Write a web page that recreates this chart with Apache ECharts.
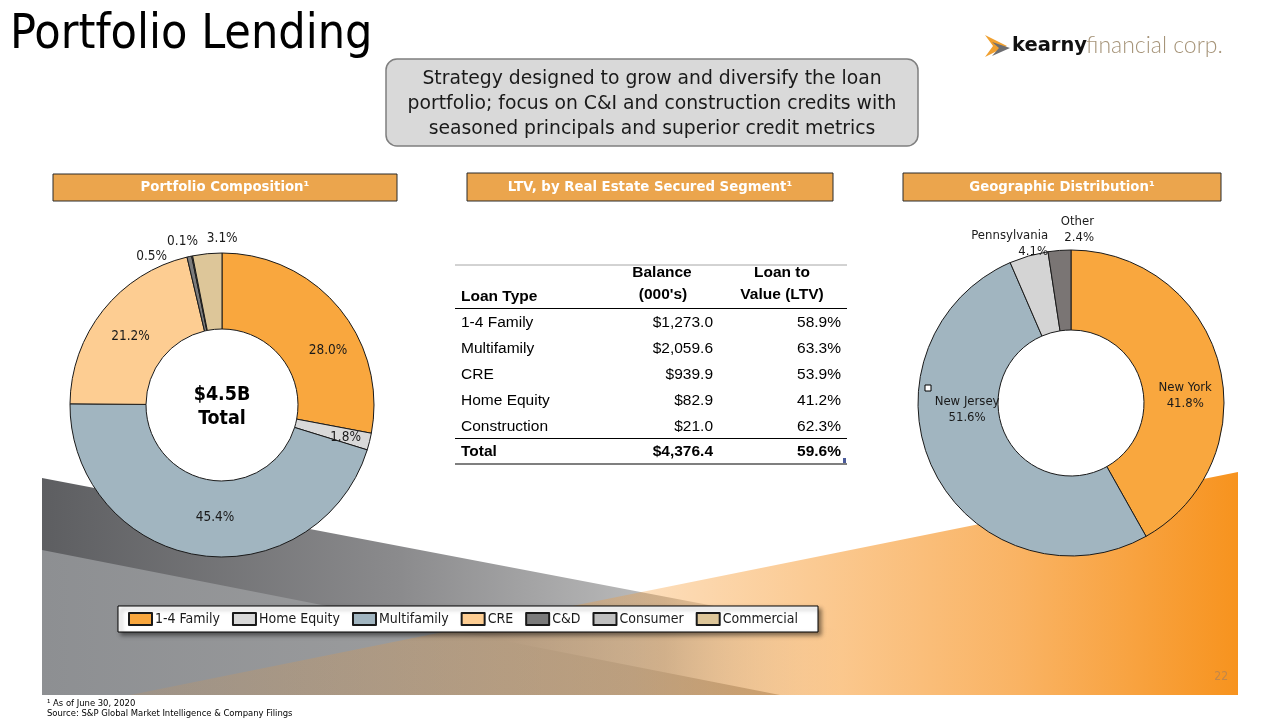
<!DOCTYPE html>
<html>
<head>
<meta charset="utf-8">
<script src="https://cdn.jsdelivr.net/npm/echarts@6/dist/echarts.min.js"></script>
<style>
html,body{margin:0;padding:0;background:#fff;}
#chart{width:1280px;height:720px;}
</style>
</head>
<body>
<div id="chart"></div>
<script>
// ---------- data ----------
const compCategories = ['1-4 Family', 'Home Equity', 'Multifamily', 'CRE', 'C&D', 'Consumer', 'Commercial'];
const compValues = [28.0, 1.8, 45.4, 21.2, 0.5, 0.1, 3.1];
const geoCategories = ['New York', 'New Jersey', 'Pennsylvania', 'Other'];
const geoValues = [41.8, 51.6, 4.1, 2.4];
const tableLoanTypes = ['1-4 Family', 'Multifamily', 'CRE', 'Home Equity', 'Construction'];
const tableBalances = [1273.0, 2059.6, 939.9, 82.9, 21.0];
const tableLTV = [58.9, 63.3, 53.9, 41.2, 62.3];
const tableTotalBalance = 4376.4;
const tableTotalLTV = 59.6;

// ---------- styles ----------
const COND = '"DejaVu Sans Condensed", "DejaVu Sans", sans-serif';
const DJV = '"DejaVu Sans", sans-serif';
const ARIAL = '"Liberation Sans", Arial, sans-serif';
const compColors = ['#F9A73E', '#D9D9D9', '#A1B5C0', '#FDCD92', '#7B7B7B', '#BFBFBF', '#DDC699'];
const geoColors = ['#F9A73E', '#A1B5C0', '#D4D4D4', '#7A7574'];
const barFill = '#EBA54D';

const fmtMoney = v => '$' + v.toLocaleString('en-US', {minimumFractionDigits: 1, maximumFractionDigits: 1});
const fmtPct = v => v.toFixed(1) + '%';

const compOutside = {4: true, 5: true, 6: true};
const geoOutside = {2: true, 3: true};
// label nudges [dx, dy] per series / data index
const labelNudge = [
  {0: [16, 20], 1: [10, 4], 2: [11, -3], 3: [0, 4], 4: [-16, 6], 5: [12, -9], 6: [36, -9]},
  {0: [2, 22], 1: [0, -45], 2: [26, -7], 3: [40, -15]}
];

const g = [];
// background shapes
g.push({type: 'polygon', z: -10, shape: {points: [[42, 478], [840, 630], [840, 695], [42, 695]]},
  style: {fill: {type: 'linear', x: 0, y: 0, x2: 1, y2: 0, colorStops: [
    {offset: 0, color: '#5d5e61'}, {offset: 0.45, color: '#8b8b8d'}, {offset: 0.78, color: '#bdbdbd'}, {offset: 1, color: 'rgba(225,225,225,0)'}]}}});
g.push({type: 'polygon', z: -9, shape: {points: [[42, 550], [780, 695], [42, 695]]},
  style: {fill: {type: 'linear', x: 0, y: 0, x2: 1, y2: 0, colorStops: [
    {offset: 0, color: '#8d8f92'}, {offset: 1, color: '#a8a8a8'}]}}});
g.push({type: 'polygon', z: -8, shape: {points: [[130, 695], [1238, 472], [1238, 695]]},
  style: {fill: {type: 'linear', x: 0, y: 0, x2: 1, y2: 0, colorStops: [
    {offset: 0, color: 'rgba(247,150,40,0.12)'}, {offset: 0.45, color: 'rgba(247,150,40,0.3)'},
    {offset: 0.8, color: 'rgba(247,150,40,0.72)'}, {offset: 1, color: 'rgba(247,147,30,1)'}]}}});

// title
g.push({type: 'text', style: {text: 'Portfolio Lending', x: 10, y: 36, font: '48px ' + COND, fill: '#000', textVerticalAlign: 'middle'}});
// logo
g.push({type: 'polygon', shape: {points: [[985, 35], [1007, 46], [985, 57], [993, 46]]}, style: {fill: '#F0A030'}});
g.push({type: 'polygon', shape: {points: [[992, 42], [1010, 48], [992, 56], [999, 48]]}, style: {fill: '#6d6e71'}});
g.push({type: 'text', style: {text: 'kearny', x: 1012, y: 46, font: 'bold 19.5px "DejaVu Sans", sans-serif', fill: '#111', textVerticalAlign: 'middle'}});
g.push({type: 'text', style: {text: 'financial corp.', x: 1086, y: 46, font: '300 23px Lato, sans-serif', fill: '#A69479', textVerticalAlign: 'middle'}});

// callout
g.push({type: 'rect', shape: {x: 386, y: 59, width: 532, height: 87, r: 11}, style: {fill: '#D9D9D9', stroke: '#7f7f7f', lineWidth: 1.5}});
['Strategy designed to grow and diversify the loan', 'portfolio; focus on C&I and construction credits with', 'seasoned principals and superior credit metrics']
  .forEach((t, i) => g.push({type: 'text', style: {text: t, x: 652, y: 79 + i * 25, font: '18.8px ' + DJV, fill: '#1a1a1a', textAlign: 'center', textVerticalAlign: 'middle'}}));

// header bars
[[53, 174, 344, 27, 'Portfolio Composition\u00B9'], [467, 173, 366, 28, 'LTV, by Real Estate Secured Segment\u00B9'], [903, 173, 318, 28, 'Geographic Distribution\u00B9']]
  .forEach(b => {
    g.push({type: 'rect', shape: {x: b[0], y: b[1], width: b[2], height: b[3]}, style: {fill: barFill, stroke: '#2b2b2b', lineWidth: 1}});
    g.push({type: 'text', style: {text: b[4], x: b[0] + b[2] / 2, y: b[1] + b[3] / 2 + 0.5, font: 'bold 13.3px ' + DJV, fill: '#fff', textAlign: 'center', textVerticalAlign: 'middle'}});
  });

// table
const tx0 = 455, tx1 = 847, colL = 461, colB = 713, colV = 841;
const tline = (y, c, w) => g.push({type: 'line', shape: {x1: tx0, y1: y, x2: tx1, y2: y}, style: {stroke: c, lineWidth: w}});
tline(265, '#a6a6a6', 1); tline(308.5, '#000', 1.2); tline(438.5, '#000', 1.2); tline(464, '#000', 1.2);
const ttext = (t, x, y, align, bold) => g.push({type: 'text', style: {text: t, x: x, y: y, font: (bold ? 'bold ' : '') + '15.5px ' + ARIAL, fill: '#000', textAlign: align, textVerticalAlign: 'middle'}});
ttext('Loan Type', colL, 297, 'left', true);
ttext('Balance', 662, 273, 'center', true); ttext("(000's)", 663, 295, 'center', true);
ttext('Loan to', 782, 273, 'center', true); ttext('Value (LTV)', 782, 295, 'center', true);
tableLoanTypes.forEach((t, i) => {
  const y = 323 + i * 26;
  ttext(t, colL, y, 'left', false);
  ttext(fmtMoney(tableBalances[i]), colB, y, 'right', false);
  ttext(fmtPct(tableLTV[i]), colV, y, 'right', false);
});
ttext('Total', colL, 452, 'left', true);
ttext(fmtMoney(tableTotalBalance), colB, 452, 'right', true);
ttext(fmtPct(tableTotalLTV), colV, 452, 'right', true);
g.push({type: 'rect', shape: {x: 843, y: 458, width: 3, height: 5}, style: {fill: '#4a5a9a'}});

// donut center text
g.push({type: 'text', z: 10, style: {text: '$4.5B', x: 222, y: 395, font: 'bold 19.5px ' + COND, fill: '#000', textAlign: 'center', textVerticalAlign: 'middle'}});
g.push({type: 'text', z: 10, style: {text: 'Total', x: 222, y: 419, font: 'bold 19.5px ' + COND, fill: '#000', textAlign: 'center', textVerticalAlign: 'middle'}});

// small square artifact on right donut
g.push({type: 'rect', z: 10, shape: {x: 925, y: 385, width: 6, height: 6}, style: {fill: '#fff', stroke: '#000', lineWidth: 1}});

// footer
g.push({type: 'text', style: {text: '\u00B9 As of June 30, 2020', x: 47, y: 704, font: '9.4px ' + COND, fill: '#000', textVerticalAlign: 'middle'}});
g.push({type: 'text', style: {text: 'Source: S&P Global Market Intelligence & Company Filings', x: 47, y: 714, font: '9.4px ' + COND, fill: '#000', textVerticalAlign: 'middle'}});
g.push({type: 'text', style: {text: '22', x: 1228, y: 677, font: '12px ' + COND, fill: '#C2874A', textAlign: 'right', textVerticalAlign: 'middle'}});

const chart = echarts.init(document.getElementById('chart'), null, {renderer: 'canvas'});
chart.setOption({
  animation: false,
  backgroundColor: '#fff',
  graphic: {elements: g},
  legend: {
    data: compCategories,
    left: 118, top: 606,
    orient: 'horizontal',
    icon: 'rect',
    itemWidth: 23, itemHeight: 12, itemGap: 12,
    padding: [6, 20, 6, 10],
    backgroundColor: '#fff', borderColor: '#000', borderWidth: 1,
    shadowColor: 'rgba(0,0,0,0.45)', shadowBlur: 4, shadowOffsetX: 3, shadowOffsetY: 3,
    textStyle: {fontFamily: COND, fontSize: 14, color: '#1a1a1a', padding: [0, 0, 0, -2]},
    selectedMode: false
  },
  series: [
    {
      type: 'pie', name: 'Portfolio Composition',
      center: [222, 405], radius: [76, 152],
      startAngle: 90, clockwise: true, avoidLabelOverlap: false,
      color: compColors,
      itemStyle: {borderColor: '#1a1a1a', borderWidth: 1},
      label: {position: 'inside', fontFamily: COND, fontSize: 13.5, color: '#1a1a1a',
        formatter: p => fmtPct(p.value)},
      labelLine: {show: false, length: 6, length2: 0},
      labelLayout: p => { const n = labelNudge[0][p.dataIndex] || [0, 0]; return {dx: n[0], dy: n[1], hideOverlap: false}; },
      data: compCategories.map((n, i) => ({name: n, value: compValues[i],
        label: compOutside[i] ? {position: 'outside'} : undefined})),
      emphasis: {disabled: true}
    },
    {
      type: 'pie', name: 'Geographic Distribution',
      center: [1071, 403], radius: [73, 153],
      startAngle: 90, clockwise: true, avoidLabelOverlap: false,
      color: geoColors,
      itemStyle: {borderColor: '#1a1a1a', borderWidth: 1},
      label: {position: 'inside', fontFamily: COND, fontSize: 13, lineHeight: 16, color: '#1a1a1a', align: 'center',
        formatter: p => p.name + '\n' + fmtPct(p.value)},
      labelLine: {show: false, length: 6, length2: 0},
      labelLayout: p => { const n = labelNudge[1][p.dataIndex] || [0, 0]; return {dx: n[0], dy: n[1], hideOverlap: false}; },
      data: geoCategories.map((n, i) => ({name: n, value: geoValues[i],
        label: geoOutside[i] ? {position: 'outside'} : undefined})),
      emphasis: {disabled: true}
    }
  ]
});
</script>
</body>
</html>
